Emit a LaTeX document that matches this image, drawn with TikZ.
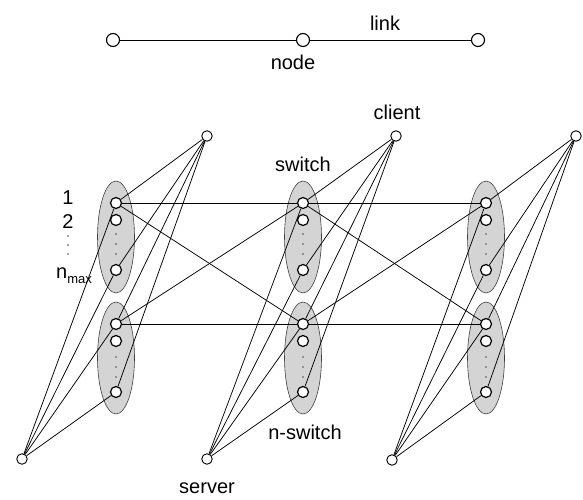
\documentclass[tikz,border=0pt]{standalone}
\usepackage{fontspec}
\setmainfont{Liberation Sans}
\usetikzlibrary{shapes.geometric}
\begin{document}
\begin{tikzpicture}[x=1pt,y=-1pt,
 port/.style={circle,draw,line width=1.2pt,fill=white,minimum size=11pt,inner sep=0pt},
 endpt/.style={circle,draw,line width=0.9pt,fill=white,minimum size=10.5pt,inner sep=0pt},
 topnd/.style={circle,draw,line width=1.1pt,fill=white,minimum size=13pt,inner sep=0pt},
 sw/.style={ellipse,draw=black!75,fill=black!17,line width=0.6pt,minimum width=37pt,minimum height=112pt,inner sep=0pt},
 lnk/.style={line width=0.75pt},
 lbl/.style={font=\fontsize{20}{23}\selectfont,inner sep=0pt},
 dotm/.style={fill=black!70}]
\useasboundingbox (0,0) rectangle (583,500);
% top legend
\node[topnd] (t1) at (113,40) {};
\node[topnd] (t2) at (303,40) {};
\node[topnd] (t3) at (478,40) {};
\draw[lnk] (t1) -- (t2);
\draw[lnk] (t2) -- (t3);
\node[lbl] (llink) at (385,23) {link};
\node[lbl] (lnode) at (293,62) {node};
% switches
\foreach \c/\x in {0/116,1/303,2/486}{
  \node[sw] (U\c) at (\x,237) {};
  \node[sw] (L\c) at (\x,358) {};
  \node[port] (ua\c) at (\x,203) {};
  \node[port] (ub\c) at (\x,220) {};
  \node[port] (un\c) at (\x,270) {};
  \node[port] (la\c) at (\x,324) {};
  \node[port] (lb\c) at (\x,341) {};
  \node[port] (ln\c) at (\x,392) {};
  \foreach \y in {234,244,254,357,367,377}{
    \fill[dotm] (\x,\y) circle (0.9pt);
  }
}
% clients and servers
\node[endpt] (c0) at (207,136) {};
\node[endpt] (c1) at (396,136) {};
\node[endpt] (c2) at (576,136) {};
\node[endpt] (s0) at (22,459) {};
\node[endpt] (s1) at (207,459) {};
\node[endpt] (s2) at (392,460) {};
\foreach \c in {0,1,2}{
  \foreach \p in {ua,un,la,ln}{
    \draw[lnk] (c\c) -- (\p\c);
    \draw[lnk] (s\c) -- (\p\c);
  }
}
\foreach \c/\d in {0/1,1/2}{
  \draw[lnk] (ua\c) -- (ua\d);
  \draw[lnk] (la\c) -- (la\d);
  \draw[lnk] (ua\c) -- (la\d);
  \draw[lnk] (la\c) -- (ua\d);
}
% labels
\node[lbl] (lclient) at (397,112) {client};
\node[lbl] (lswitch) at (303,164) {switch};
\node[lbl] (lnswitch) at (305,432) {n-switch};
\node[lbl] (lserver) at (207,488) {server};
\node[lbl] (l1) at (68,198) {1};
\node[lbl] (l2) at (68,222) {2};
\foreach \y in {236,245,254}{
  \fill[dotm] (68,\y) circle (0.9pt);
}
\node[lbl,anchor=base west] (lnmax) at (56,278) {n\raisebox{-5pt}{\fontsize{13}{13}\selectfont max}};
\end{tikzpicture}
\end{document}
